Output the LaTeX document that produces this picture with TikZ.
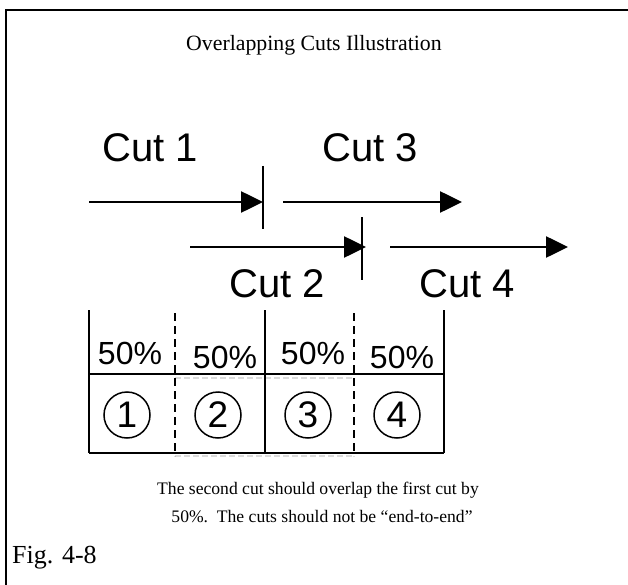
\documentclass[tikz,border=0pt]{standalone}
\usepackage{fontspec}
\setmainfont{Liberation Serif}
\newfontfamily\arialf{Liberation Sans}
\usetikzlibrary{arrows.meta}
\begin{document}
\begin{tikzpicture}[x=1pt,y=-1pt,
  serif/.style={font=\fontsize{17.6}{21}\selectfont, inner sep=0pt},
  titlef/.style={font=\fontsize{21.8}{26}\selectfont, inner sep=0pt},
  figf/.style={font=\fontsize{26}{30}\selectfont, inner sep=0pt},
  cutlabel/.style={font=\arialf\fontsize{40}{44}\selectfont, inner sep=0pt},
  pct/.style={font=\arialf\fontsize{32}{36}\selectfont, inner sep=0pt},
  circnum/.style={circle, draw, line width=1.5pt, minimum size=46pt, inner sep=0pt, font=\arialf\fontsize{37}{39}\selectfont},
  cutarrow/.style={line width=2.6pt, -{Triangle[length=22pt,width=21pt]}},
  tick/.style={line width=2.4pt},
  tline/.style={line width=2pt},
  tdash/.style={line width=2pt, dash pattern=on 8pt off 5pt},
  faint/.style={line width=1.5pt, gray!28, dash pattern=on 6pt off 3pt}
]
\useasboundingbox (0,0) rectangle (628,585);
% frame
\draw[line width=2.4pt] (628,10) -- (6,10) -- (6,585);
% title
\node[titlef] (title) at (314,45) {Overlapping Cuts Illustration};
% cut labels
\node[cutlabel] (c1) at (150,148) {Cut 1};
\node[cutlabel] (c3) at (370,148) {Cut 3};
\node[cutlabel] (c2) at (277,284) {Cut 2};
\node[cutlabel] (c4) at (467,284) {Cut 4};
% arrows
\coordinate (a1s) at (89,202); \coordinate (a1e) at (263,202);
\coordinate (a3s) at (283,202); \coordinate (a3e) at (462,202);
\coordinate (a2s) at (190,247); \coordinate (a2e) at (366,247);
\coordinate (a4s) at (390,247); \coordinate (a4e) at (568,247);
\draw[cutarrow] (a1s) -- (a1e);
\draw[cutarrow] (a3s) -- (a3e);
\draw[cutarrow] (a2s) -- (a2e);
\draw[cutarrow] (a4s) -- (a4e);
\coordinate (t1a) at (263,166); \coordinate (t1b) at (263,229);
\coordinate (t2a) at (362,217); \coordinate (t2b) at (362,280);
\draw[tick] (t1a) -- (t1b);
\draw[tick] (t2a) -- (t2b);
% table
\coordinate (L0) at (89,310); \coordinate (L1) at (89,453);
\coordinate (M0) at (265,310); \coordinate (M1) at (265,453);
\coordinate (R0) at (444,310); \coordinate (R1) at (444,453);
\coordinate (D10) at (175,313); \coordinate (D11) at (175,456);
\coordinate (D20) at (354,313); \coordinate (D21) at (354,456);
\coordinate (H0) at (89,374); \coordinate (H1) at (444,374);
\coordinate (B0) at (89,453); \coordinate (B1) at (444,453);
\coordinate (F0) at (175,378); \coordinate (F1) at (354,378);
\coordinate (G0) at (175,456); \coordinate (G1) at (354,456);
\draw[faint] (F0) -- (F1);
\draw[faint] (G0) -- (G1);
\draw[tline] (L0) -- (L1);
\draw[tline] (M0) -- (M1);
\draw[tline] (R0) -- (R1);
\draw[tline] (H0) -- (H1);
\draw[tline] (B0) -- (B1);
\draw[tdash] (D10) -- (D11);
\draw[tdash] (D20) -- (D21);
\node[pct] (p1) at (130,353) {50\%};
\node[pct] (p2) at (225,357) {50\%};
\node[pct] (p3) at (313,353) {50\%};
\node[pct] (p4) at (402,357) {50\%};
\node[circnum] (n1) at (127,415) {1};
\node[circnum] (n2) at (218,415) {2};
\node[circnum] (n3) at (308,415) {3};
\node[circnum] (n4) at (397,415) {4};
% caption
\node[serif] (cap1) at (318,490) {The second cut should overlap the first cut by};
\node[serif] (cap2) at (322,517) {50\%.\ \ The cuts should not be “end-to-end”};
\node[figf, anchor=west] (fig) at (12,558) {Fig. 4-8};
\end{tikzpicture}
\end{document}
